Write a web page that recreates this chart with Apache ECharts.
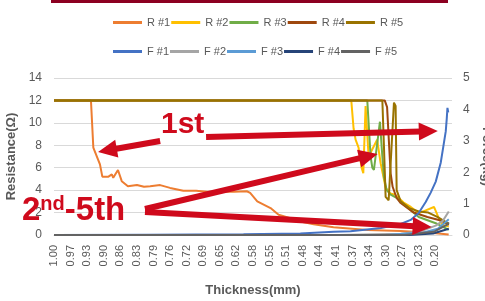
<!DOCTYPE html>
<html>
<head>
<meta charset="utf-8">
<script src="https://cdn.jsdelivr.net/npm/echarts@6/dist/echarts.min.js"></script>
<style>
html, body { margin: 0; padding: 0; background: #fff; }
#chart { width: 485px; height: 301px; }
</style>
</head>
<body>
<div id="chart"></div>
<script>
// x tick labels (thickness, mm), one every 0.035 from 1.00
var tickLabels = ['1.00', '0.97', '0.93', '0.90', '0.86', '0.83', '0.79', '0.76', '0.72', '0.69', '0.65', '0.62',
  '0.58', '0.55', '0.51', '0.48', '0.44', '0.41', '0.37', '0.34', '0.30', '0.27', '0.23', '0.20']
var step = 0.035

var rNames = ['R #1', 'R #2', 'R #3', 'R #4', 'R #5']
var fNames = ['F #1', 'F #2', 'F #3', 'F #4', 'F #5']
var rColors = ['#ED7D31', '#FFC000', '#70AD47', '#9E480E', '#997300']
var fColors = ['#4472C4', '#A5A5A5', '#5B9BD5', '#264478', '#636363']

// resistance (Ω) : [thickness, value]
var r1 = [[1.00, 12], [0.922, 12], [0.917, 7.8], [0.903, 6.3], [0.898, 5.2], [0.885, 5.2], [0.878, 5.4], [0.875, 5.1],
  [0.865, 5.8], [0.857, 4.8], [0.844, 4.35], [0.825, 4.45], [0.81, 4.3], [0.797, 4.35], [0.776, 4.45], [0.755, 4.2],
  [0.727, 3.95], [0.70, 3.95], [0.677, 3.85], [0.62, 3.85], [0.593, 3.9], [0.586, 3.75], [0.571, 3.0], [0.543, 2.4],
  [0.526, 1.8], [0.501, 1.5], [0.48, 1.2], [0.452, 0.95], [0.41, 0.7], [0.338, 0.45], [0.268, 0.35], [0.205, 0.2],
  [0.167, 0.05]]
var r2 = [[1.00, 12], [0.3726, 12], [0.3677, 9.5], [0.3635, 8.5], [0.3572, 7.8], [0.3508, 6.0], [0.3472, 5.5],
  [0.3424, 11.5], [0.336, 7.0], [0.318, 8.5], [0.3106, 6.4], [0.30, 4.2], [0.29, 3.7], [0.28, 3.6], [0.262, 2.9],
  [0.247, 2.5], [0.23, 1.95], [0.2155, 2.2], [0.198, 2.5], [0.194, 2.4], [0.188, 1.5], [0.1795, 0.9], [0.1668, 0.75]]
var r3 = [[1.00, 12], [0.3388, 12], [0.3318, 7.0], [0.3282, 6.0], [0.3248, 5.8], [0.3212, 5.7], [0.3121, 10.1],
  [0.307, 7.0], [0.3037, 5.2], [0.2979, 4.0], [0.2895, 3.6], [0.2768, 3.3], [0.2578, 2.6], [0.2303, 1.6],
  [0.1943, 1.05], [0.1668, 0.45]]
var r4 = [[1.00, 12], [0.302, 12], [0.297, 11.4], [0.294, 9], [0.2895, 5.5], [0.2853, 4.3], [0.2768, 3.3],
  [0.2683, 2.85], [0.2408, 2.0], [0.2119, 1.6], [0.1838, 1.3], [0.1668, 0.9]]
var r5 = [[1.00, 12], [0.307, 12], [0.3037, 8], [0.3001, 3.4], [0.2937, 3.1], [0.2825, 11.8], [0.279, 11.5],
  [0.2768, 4.0], [0.2683, 3.0], [0.25, 2.4], [0.23, 2.1], [0.21, 2.0], [0.19, 1.6], [0.1668, 1.0]]

// force (kg) : [thickness, value]
var f1 = [[1.00, 0], [0.80, 0.01], [0.60, 0.02], [0.48, 0.05], [0.41, 0.1], [0.3741, 0.12], [0.31, 0.22],
  [0.2683, 0.35], [0.2472, 0.48], [0.2303, 0.7], [0.2155, 1.05], [0.2049, 1.35], [0.1943, 1.7], [0.1838, 2.3],
  [0.1774, 2.9], [0.1732, 3.3], [0.1711, 3.7], [0.1696, 4.05], [0.1679, 3.9]]
var f2 = [[1.00, 0], [0.40, 0], [0.2683, 0.04], [0.2261, 0.12], [0.1943, 0.3], [0.1795, 0.45], [0.1668, 0.75]]
var f3 = [[1.00, 0], [0.30, 0], [0.22, 0.08], [0.19, 0.2], [0.1668, 0.5]]
var f4 = [[1.00, 0], [0.25, 0], [0.20, 0.05], [0.1668, 0.2]]
var f5 = [[1.00, 0], [0.26, 0], [0.1986, 0.1], [0.1711, 0.32], [0.1668, 0.4]]

var rData = [r1, r2, r3, r4, r5]
var fData = [f1, f2, f3, f4, f5]

// annotation arrows: [tail, tip] as [thickness, resistance]
var arrows = [
  [[0.776, 8.38], [0.907, 7.40]],
  [[0.679, 8.74], [0.190, 9.27]],
  [[0.808, 2.32], [0.317, 7.22]],
  [[0.808, 2.05], [0.203, 0.71]]
]
var red = '#CF0A1C'
var grey = '#595959'

// x axis runs on (1 - thickness) so ticks start at 0
function toXY(arr) {
  return arr.map(function (p) { return [1 - p[0], p[1]] })
}

var series = []
for (var i = 0; i < rData.length; i++) {
  series.push({
    name: rNames[i], type: 'line', yAxisIndex: 0, data: toXY(rData[i]),
    showSymbol: false, lineStyle: { width: 2, color: rColors[i] }, itemStyle: { color: rColors[i] }
  })
}
for (var i = 0; i < fData.length; i++) {
  series.push({
    name: fNames[i], type: 'line', yAxisIndex: 1, data: toXY(fData[i]),
    showSymbol: false, lineStyle: { width: 2, color: fColors[i] }, itemStyle: { color: fColors[i] }
  })
}

var legendBase = {
  left: 108, icon: 'rect', itemWidth: 29, itemHeight: 3, itemGap: 1,
  textStyle: { color: grey, fontSize: 11 }
}

var chart = echarts.init(document.getElementById('chart'))
chart.setOption({
  animation: false,
  legend: [
    Object.assign({}, legendBase, { top: 12, data: rNames }),
    Object.assign({}, legendBase, { top: 41, data: fNames })
  ],
  grid: { left: 54, right: 33, top: 78, bottom: 66, outerBoundsMode: 'none' },
  xAxis: {
    type: 'value', min: 0, max: 0.84, interval: step,
    name: 'Thickness(mm)', nameLocation: 'middle', nameGap: 49,
    nameTextStyle: { color: grey, fontWeight: 'bold', fontSize: 13 },
    axisLine: { lineStyle: { color: '#D9D9D9' } },
    axisTick: { show: false },
    splitLine: { show: false },
    axisLabel: {
      rotate: 90, fontSize: 11, color: grey, margin: 10,
      formatter: function (v) { return tickLabels[Math.round(v / step)] || '' }
    }
  },
  yAxis: [{
    type: 'value', min: 0, max: 14, interval: 2,
    name: 'Resistance(Ω)', nameLocation: 'middle', nameGap: 30,
    nameTextStyle: { color: grey, fontWeight: 'bold', fontSize: 13 },
    axisLine: { show: false }, axisTick: { show: false },
    axisLabel: { color: grey, fontSize: 12, margin: 12 },
    splitLine: { lineStyle: { color: '#D9D9D9' } }
  }, {
    type: 'value', min: 0, max: 5, interval: 1, position: 'right',
    name: 'Force(kg)', nameLocation: 'middle', nameGap: 17, nameRotate: -90,
    nameTextStyle: { color: grey, fontWeight: 'bold', fontSize: 13 },
    axisLine: { show: false }, axisTick: { show: false },
    axisLabel: { color: grey, fontSize: 12, margin: 11 },
    splitLine: { show: false }
  }],
  series: series
})

// annotations
var gfx = [{
  type: 'rect', shape: { x: 51, y: 0, width: 397, height: 3 }, style: { fill: '#8C0021' }
}]
arrows.forEach(function (a) {
  var p0 = chart.convertToPixel({ xAxisIndex: 0, yAxisIndex: 0 }, [1 - a[0][0], a[0][1]])
  var p1 = chart.convertToPixel({ xAxisIndex: 0, yAxisIndex: 0 }, [1 - a[1][0], a[1][1]])
  var dx = p1[0] - p0[0], dy = p1[1] - p0[1]
  var len = Math.sqrt(dx * dx + dy * dy)
  var ux = dx / len, uy = dy / len
  var nx = -uy, ny = ux
  var L = 19, w = 9
  var bx = p1[0] - ux * L, by = p1[1] - uy * L
  gfx.push({
    type: 'line', z: 100,
    shape: { x1: p0[0], y1: p0[1], x2: bx + ux * 2, y2: by + uy * 2 },
    style: { stroke: red, lineWidth: 6 }
  })
  gfx.push({
    type: 'polygon', z: 100,
    shape: { points: [[p1[0], p1[1]], [bx + nx * w, by + ny * w], [bx - nx * w, by - ny * w]] },
    style: { fill: red }
  })
})
gfx.push({
  type: 'text', z: 101, x: 161, y: 125,
  style: { text: '1st', fontSize: 30, fontWeight: 'bold', fontFamily: 'Liberation Sans', fill: red, verticalAlign: 'middle' }
})
gfx.push({
  type: 'text', z: 101, x: 22, y: 211,
  style: {
    text: '{a|2}{b|nd}{a|-5th}', verticalAlign: 'middle',
    rich: {
      a: { fontSize: 33, fontWeight: 'bold', fontFamily: 'Liberation Sans', fill: red },
      b: { fontSize: 20, fontWeight: 'bold', fontFamily: 'Liberation Sans', fill: red, verticalAlign: 'top' }
    }
  }
})
chart.setOption({ graphic: gfx })
</script>
</body>
</html>
